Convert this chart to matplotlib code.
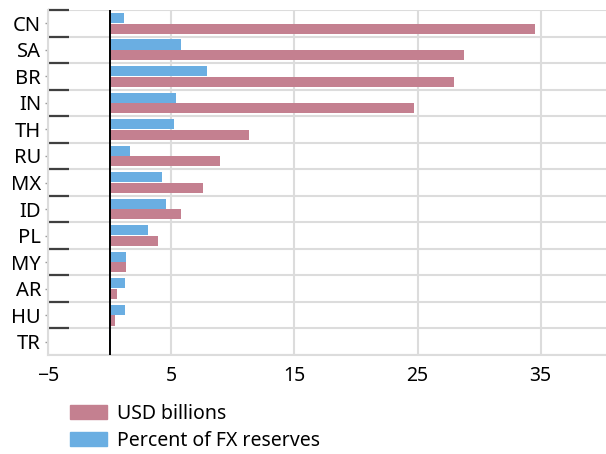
import matplotlib
matplotlib.use('Agg')
from matplotlib import pyplot as plt
from matplotlib.patches import Patch
import numpy as np

plt.rcParams['font.family'] = ['Noto Sans', 'DejaVu Sans']

countries = ['CN', 'SA', 'BR', 'IN', 'TH', 'RU', 'MX', 'ID', 'PL', 'MY', 'AR', 'HU', 'TR']
usd_billions = [34.5, 28.8, 28.0, 24.7, 11.3, 9.0, 7.6, 5.8, 3.9, 1.3, 0.57, 0.41, -0.05]
pct_fx_reserves = [1.14, 5.76, 7.87, 5.43, 5.19, 1.62, 4.22, 4.54, 3.08, 1.3, 1.22, 1.22, -0.05]
x_ticks = [-5, 5, 15, 25, 35]

red = '#C48090'
blue = '#6AAEE2'
grid_col = '#DCDCDC'

fig = plt.figure(figsize=(6.06, 4.54), dpi=100)
ax = fig.add_axes([48 / 606, 1 - 355 / 454, 1 - 48 / 606, 345 / 454])

y = np.arange(len(countries))
h = 0.38
ax.barh(y - h / 2 - 0.01, pct_fx_reserves, height=h, color=blue, zorder=3)
ax.barh(y + h / 2 + 0.01, usd_billions, height=h, color=red, zorder=3)

ax.set_ylim(len(countries) - 0.5, -0.5)
ax.set_xlim(-5, 40.3)
ax.axvline(0, color='black', lw=1.4, zorder=4)

# category labels at centres, dark separator ticks on the boundaries
ax.set_yticks(y)
ax.set_yticklabels(countries, fontsize=14.5)
ax.set_yticks(np.arange(len(countries)) - 0.4999, minor=True)
ax.tick_params(axis='y', which='major', length=2, width=1, color='#999999', pad=3)
ax.tick_params(axis='y', which='minor', direction='in', length=15, width=1.6, color='#404040')

ax.set_xticks(x_ticks)
ax.set_xticklabels(['\u22125' if t < 0 else str(t) for t in x_ticks], fontsize=14)
ax.tick_params(axis='x', length=0, pad=8)

ax.grid(axis='x', which='major', color=grid_col, lw=1.5, zorder=0)
ax.grid(axis='y', which='major', visible=False)
for b in np.arange(len(countries) + 1) - 0.5:
    ax.axhline(b, color=grid_col, lw=1.5, zorder=0)

ax.spines['right'].set_visible(False)
ax.spines['top'].set_visible(False)
for s in ['left', 'bottom']:
    ax.spines[s].set_color(grid_col)
    ax.spines[s].set_linewidth(1.5)

handles = [Patch(color=red, label='USD billions'), Patch(color=blue, label='Percent of FX reserves')]
fig.legend(handles=handles, loc='upper left', bbox_to_anchor=(62 / 606, 1 - 396 / 454),
           frameon=False, fontsize=14, handlelength=1.9, handleheight=0.75,
           handletextpad=0.55, labelspacing=0.35, borderaxespad=0)

fig.savefig('out.png', dpi=100)
